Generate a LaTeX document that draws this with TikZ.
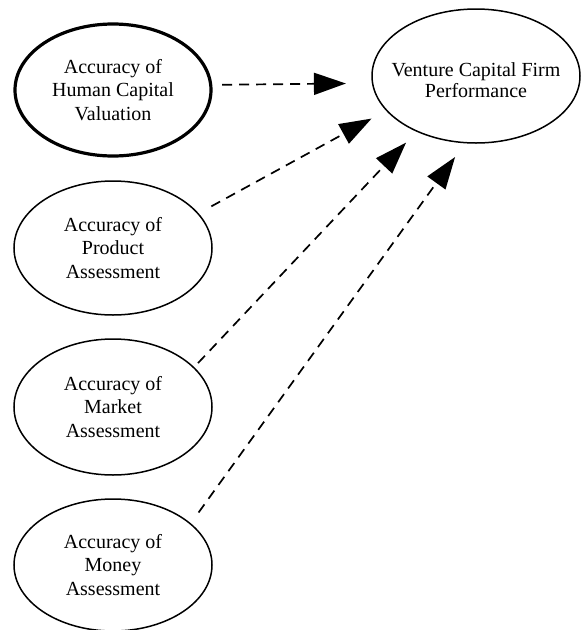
\documentclass[tikz,border=0pt]{standalone}
\usepackage{fontspec}
\setmainfont{Liberation Serif}
\usetikzlibrary{shapes.geometric,arrows.meta}
\begin{document}
\begin{tikzpicture}[x=1pt,y=1pt,
  oval/.style={ellipse,draw,line width=1.5pt,inner sep=0pt,outer sep=0pt,
    minimum width=198pt,minimum height=134pt,align=center,
    font=\fontsize{20}{23.3}\selectfont},
  conn/.style={line width=1.7pt,dash pattern=on 10pt off 7pt,
    -{Triangle[length=32pt,width=22pt]}}]
\useasboundingbox (0,0) rectangle (581,-630);
\node[oval,line width=3.2pt,minimum width=196pt,minimum height=132pt] (hc) at (113,-90) {Accuracy of\\Human Capital\\Valuation};
\node[oval,minimum width=208pt,minimum height=134pt] (vc) at (476,-76) {};
\node[align=center,inner sep=0pt,font=\fontsize{20}{21}\selectfont] (vct) at (476,-80) {Venture Capital Firm\\Performance};
\node[oval] (pr) at (113,-248) {Accuracy of\\Product\\Assessment};
\node[oval,minimum height=136pt] (mk) at (113,-407) {Accuracy of\\Market\\Assessment};
\node[oval,minimum height=132pt] (mo) at (113,-565) {Accuracy of\\Money\\Assessment};
\draw[conn,shorten <=11.4pt,shorten >=26.7pt] (hc.3.5) -- (vc.184.4);
\draw[conn,shorten <=15.2pt,shorten >=17.2pt] (pr.22.36) -- (vc.201.4);
\draw[conn,shorten <=6.3pt,shorten >=15.8pt] (mk.26.05) -- (vc.223.7);
\draw[conn,shorten <=14pt,shorten >=17.7pt] (mo.28.5) -- (vc.261.8);
\end{tikzpicture}
\end{document}
